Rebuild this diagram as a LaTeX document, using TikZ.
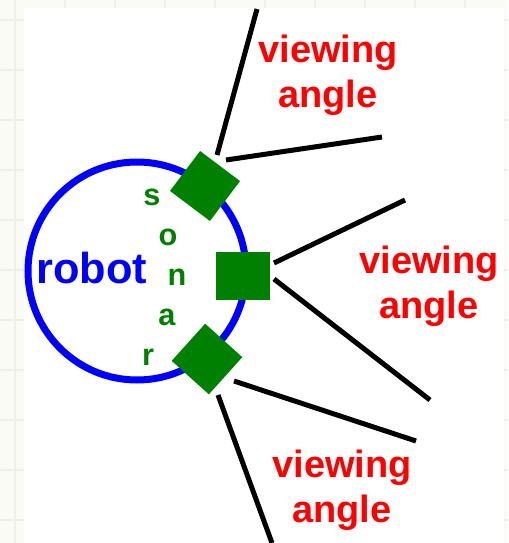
\documentclass[tikz,border=0pt]{standalone}
\usepackage{fontspec}
\setmainfont{Liberation Sans}
\usetikzlibrary{calc}
\definecolor{cBody}{HTML}{0000FF}
\definecolor{cSonar}{HTML}{008000}
\definecolor{cLabel}{HTML}{FF0000}
\definecolor{cPaper}{HTML}{FBFBF6}
\definecolor{cGrid}{HTML}{F0F0EA}

\begin{document}
\begin{tikzpicture}[
  x=0.75pt, y=-0.75pt,
  body/.style={circle, draw=cBody, line width=5.25pt, minimum size=163.5pt,
               inner sep=0pt},
  sensor/.style={rectangle, fill=cSonar, inner sep=0pt, minimum size=37.5pt},
  beam/.style={line width=3.75pt, draw=black},
  gridline/.style={draw=cGrid, line width=1.5pt},
  robotlbl/.style={text=cBody, font=\bfseries\fontsize{32.5}{38}\selectfont,
                   inner sep=0pt, anchor=base},
  sonarch/.style={text=cSonar, font=\bfseries\fontsize{23}{26}\selectfont,
                  inner sep=0pt, anchor=base},
  viewlbl/.style={text=cLabel, font=\bfseries\fontsize{28.5}{33.75}\selectfont,
                  align=center, inner sep=0pt, anchor=base},
]
\useasboundingbox (0,0) rectangle (508,543);

% ---------------- paper ----------------
\fill[cPaper] (0,0) rectangle (508,543);
\foreach \gx in {15,65,...,515} \draw[gridline] (\gx,0) -- (\gx,543);
\foreach \gy in {20,70,...,570} \draw[gridline] (0,\gy) -- (508,\gy);
\fill[white] (24,8) rectangle (504,543);

% ---------------- robot body ----------------
\node (body) [body] at (137,271) {};
\node (robot) [robotlbl] at (92,283) {robot};
\foreach \ch/\cx [count=\i] in {s/152, o/168, n/177, a/167, r/148}
  \node (son\i) [sonarch] at (\cx,165+40*\i) {\ch};

% ---------------- sonar sensors ----------------
\node (top) [sensor, rotate=53] at (205,186) {};
\node (mid) [sensor, minimum width=40.5pt, minimum height=36pt] at (243,276) {};
\node (bot) [sensor, rotate=-42] at (207,359) {};

% ---------------- viewing cones ----------------
\coordinate (t1) at (257,9);
\coordinate (t2) at (382,137);
\coordinate (m1) at (405,200);
\coordinate (m2) at (430,400);
\coordinate (b1) at (416,441);
\coordinate (b2) at (272,543);

\draw[beam] ($(top)+(12,-31)$) -- (t1);
\draw[beam] ($(top)+(21,-26)$) -- (t2);
\draw[beam] ($(mid)+(31,-13)$) -- (m1);
\draw[beam] ($(mid)+(31,3)$)   -- (m2);
\draw[beam] ($(bot)+(27,22)$)  -- (b1);
\draw[beam] ($(bot)+(11,36)$)  -- (b2);

% labels (base = baseline of the last line)
\node (vtop) [viewlbl] at (328,107) {viewing\\angle};
\node (vmid) [viewlbl] at (429,318) {viewing\\angle};
\node (vbot) [viewlbl] at (342,522) {viewing\\angle};

\end{tikzpicture}
\end{document}
